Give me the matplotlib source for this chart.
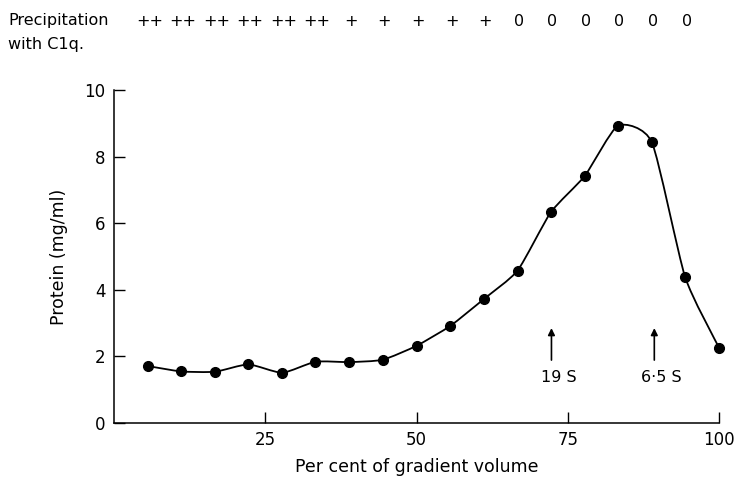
import matplotlib
matplotlib.use("Agg")
import matplotlib.pyplot as plt
import numpy as np
from matplotlib.path import Path
from matplotlib.patches import PathPatch

# Data
fraction_pct = [5.6, 11.1, 16.7, 22.2, 27.8, 33.3, 38.9, 44.4, 50.0, 55.6,
                61.1, 66.7, 72.2, 77.8, 83.3, 88.9, 94.4, 100.0]
protein = [1.71, 1.55, 1.54, 1.76, 1.51, 1.84, 1.83, 1.90, 2.32, 2.92,
           3.72, 4.58, 6.33, 7.42, 8.93, 8.43, 4.38, 2.26]
precip = ["++"] * 6 + ["+"] * 5 + ["0"] * 6
markers_s = [("19 S", 72.3), ("6\u00b75 S", 89.3)]
xticks = [25, 50, 75, 100]
yticks = [0, 2, 4, 6, 8, 10]

plt.rcParams['font.family'] = ['DejaVu Sans']
fig = plt.figure(figsize=(7.39, 4.79), dpi=100)
ax = fig.add_axes([0.1543, 0.1169, 0.8187, 0.6951])

x = np.array(fraction_pct)
y = np.array(protein)

# smooth curve via Catmull-Rom -> cubic Bezier path (reduced tension)
k = 0.1
verts = [(x[0], y[0])]
codes = [Path.MOVETO]
n = len(x)
for i in range(n - 1):
    p0 = np.array([x[max(i - 1, 0)], y[max(i - 1, 0)]])
    p1 = np.array([x[i], y[i]])
    p2 = np.array([x[i + 1], y[i + 1]])
    p3 = np.array([x[min(i + 2, n - 1)], y[min(i + 2, n - 1)]])
    c1 = p1 + k * (p2 - p0)
    c2 = p2 - k * (p3 - p1)
    verts += [tuple(c1), tuple(c2), tuple(p2)]
    codes += [Path.CURVE4] * 3
ax.add_patch(PathPatch(Path(verts, codes), facecolor='none', edgecolor='black',
                       lw=1.3, clip_on=False))
ax.plot(x, y, 'o', color='black', markersize=7, clip_on=False, zorder=3)

ax.set_xlim(0, 100)
ax.set_ylim(0, 10)
ax.set_xticks(xticks)
ax.set_yticks(yticks)
ax.tick_params(direction='in', length=8, width=1, labelsize=12, pad=6)
for s in ['top', 'right']:
    ax.spines[s].set_visible(False)
for s in ['left', 'bottom']:
    ax.spines[s].set_linewidth(1.1)
ax.set_xlabel("Per cent of gradient volume", fontsize=12.5, labelpad=6)
ax.set_ylabel("Protein (mg/ml)", fontsize=12.5, labelpad=12)

# arrows for sedimentation markers
for label, xm in markers_s:
    ax.annotate("", xy=(xm, 2.85), xytext=(xm, 1.89),
                arrowprops=dict(arrowstyle='-|>', color='black', lw=1.2,
                                mutation_scale=10, shrinkA=0, shrinkB=0))
    ax.text(xm + 1.2, 1.38, label, ha='center', va='center', fontsize=11.5)

# precipitation row
fig.text(8 / 739, 1 - 20 / 479, "Precipitation", ha='left', va='center', fontsize=11.5)
fig.text(8 / 739, 1 - 45 / 479, "with C1q.", ha='left', va='center', fontsize=11.5)
for xi, sym in zip(fraction_pct, precip):
    xf = ax.transData.transform((xi, 0))[0]
    xf_fig = fig.transFigure.inverted().transform((xf, 0))[0]
    fig.text(xf_fig + 1.5 / 739, 1 - 21 / 479, sym, ha='center', va='center', fontsize=11.5)

fig.savefig("out.png", dpi=100)
